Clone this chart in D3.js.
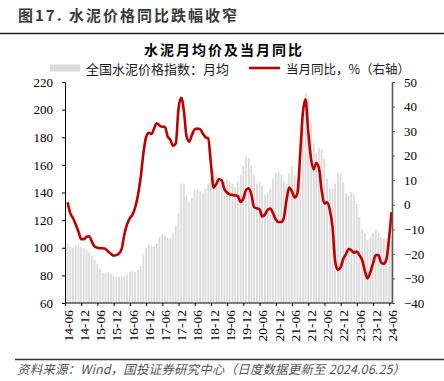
<!DOCTYPE html>
<html><head><meta charset="utf-8">
<script src="https://cdn.jsdelivr.net/npm/d3@7"></script>
<style>
html,body{margin:0;padding:0;background:#fff;}
svg{display:block;}
</style></head>
<body>
<svg id="chart" width="444" height="381"></svg>
<script>
// ---- data ----
const startMonth = "2014-06";
const cementIndex = [
  103,101,100,101,102,101,99.5,98.5,96.5,94,91.5,88.5,
  85,82,81,82,81,79.5,79,79,79,79.5,81,82.5,
  83,82.5,84,87,95,100,102,102,100.5,103,108,110,
  109,107.5,107,111,116,125,146.5,146.5,138,133,136,142,
  142,141,140,143,146.5,148,156,152.5,149,147.5,148,150,
  148,146.5,144,147.7,152.5,159.3,166.3,165,159.8,152.5,146.5,147.7,
  145.3,138,139.3,143,149.6,153.8,155,153,148.2,146.5,153.8,159.3,
  152.5,149,162.2,191,212,208,191,175.5,168,172.3,171.3,164,
  150,143,143,146.5,153.8,153.8,147.7,139.3,138,140.5,138.8,131.6,
  122.4,113.3,110.4,105.5,107.5,110.8,113.3,110.8,107.5,106.8,106.8,105.5,
  105
];
const yoyPct = [
  1,-3.5,-5.5,-8,-11,-14,-14,-13,-12.8,-15,-17,-17.5,
  -17.7,-17.7,-18,-19,-20,-20.7,-20.5,-19.8,-18,-12,-8,-5.5,
  -4,-1,4,11,21,27.5,29.3,28.8,31,33.2,32.3,31.8,
  31.8,27.8,26.4,24,25,39,43.6,38,28,25.7,28.4,30.7,
  31,30.8,29,27.5,27,17,7,8.5,10.5,10,6.5,5,
  4.2,4,3.8,3.5,1.2,2.5,6,6.7,4.2,-1,-1.4,-1.8,
  -4.8,-4,-2,-1.5,-3.5,-6,-7,-7,-5.5,2,7,5.5,
  3,4.5,20,37,43,30,19,14.5,17,15,6,0.5,
  1,-2,-9,-23,-26.5,-25.5,-22,-20,-18,-18.5,-19.5,-19,
  -20.5,-22.5,-27,-30,-27.5,-24,-20.5,-20.5,-23.5,-24,-22,-13,
  -3
];
const leftTicks = [60,80,100,120,140,160,180,200,220];
const rightTicks = [-40,-30,-20,-10,0,10,20,30,40,50];
const xTickLabels = ["14-06","14-12","15-06","15-12","16-06","16-12","17-06","17-12","18-06","18-12",
  "19-06","19-12","20-06","20-12","21-06","21-12","22-06","22-12","23-06","23-12","24-06"];
const titleText = "图17. 水泥价格同比跌幅收窄";
const chartTitle = "水泥月均价及当月同比";
const legendBar = "全国水泥价格指数：月均";
const legendLine = "当月同比，%（右轴）";
const sourceText = "资料来源：Wind，国投证券研究中心（日度数据更新至 2024.06.25）";

// ---- categories (months) ----
const parseM = d3.timeParse("%Y-%m");
const m0 = parseM(startMonth);
const months = d3.range(cementIndex.length).map(i => d3.timeMonth.offset(m0, i));
// data sit at month end (last one is the 25th, the update date)
const dataDates = months.map((m, i) => i === months.length - 1 ? new Date(2024, 5, 25) : new Date(m.getFullYear(), m.getMonth() + 1, 0));
const tickDates = xTickLabels.map(s => parseM("20" + s));

// ---- layout ----
const L = 65, R = 392, T = 82, B = 303;
const svg = d3.select("#chart");
const serif = "'Liberation Serif','Times New Roman',serif";
const cjk = "'Noto Sans CJK SC','Noto Sans',sans-serif";

const x = d3.scaleTime().domain([m0, d3.timeMonth.offset(m0, 121)]).range([L, R]);
const yL = d3.scaleLinear().domain([60, 220]).range([B, T]);
const yR = d3.scaleLinear().domain([-40, 50]).range([B, T]);

// header
svg.append("text").attr("x", 18).attr("y", 14).attr("dominant-baseline", "central")
  .style("font-family", cjk).style("font-size", "15px").style("font-weight", 700)
  .style("letter-spacing", "2px").style("fill", "#3a3a3a").text(titleText);
svg.append("line").attr("x1", 0).attr("x2", 444).attr("y1", 33.5).attr("y2", 33.5)
  .style("stroke", "#222").style("stroke-width", 1.6);
svg.append("text").attr("x", 224).attr("y", 49).attr("text-anchor", "middle").attr("dominant-baseline", "central")
  .style("font-family", cjk).style("font-size", "14px").style("font-weight", 700)
  .style("letter-spacing", "2px").style("fill", "#000").text(chartTitle);

// legend
svg.append("rect").attr("x", 50).attr("y", 64.5).attr("width", 30).attr("height", 7).style("fill", "#d9d9d9");
svg.append("text").attr("x", 86).attr("y", 68).attr("dominant-baseline", "central")
  .style("font-family", cjk).style("font-size", "13px").style("fill", "#1a1a1a").text(legendBar);
svg.append("line").attr("x1", 249).attr("x2", 280).attr("y1", 68).attr("y2", 68)
  .style("stroke", "#c00000").style("stroke-width", 2.6);
svg.append("text").attr("x", 286).attr("y", 68).attr("dominant-baseline", "central")
  .style("font-family", cjk).style("font-size", "12.5px").style("fill", "#1a1a1a").text(legendLine);

// bars
svg.append("g").selectAll("rect").data(cementIndex).join("rect")
  .attr("x", (d, i) => x(dataDates[i]) - 0.85)
  .attr("width", 1.7)
  .attr("y", d => yL(d))
  .attr("height", d => yL(60) - yL(d))
  .style("fill", "#d9d9d9");

// line
const line = d3.line().x((d, i) => x(dataDates[i])).y(d => yR(d)).curve(d3.curveMonotoneX);
svg.append("path").datum(yoyPct).attr("d", line)
  .style("fill", "none").style("stroke", "#c00000").style("stroke-width", 2.6)
  .style("stroke-linejoin", "round");

// axes
const gL = svg.append("g").attr("transform", `translate(${L},0)`)
  .call(d3.axisLeft(yL).tickValues(leftTicks).tickSize(3).tickPadding(9).tickSizeOuter(0));
const gR = svg.append("g").attr("transform", `translate(${R},0)`)
  .call(d3.axisRight(yR).tickValues(rightTicks).tickSize(3).tickPadding(9).tickSizeOuter(0));
const gB = svg.append("g").attr("transform", `translate(0,${B})`)
  .call(d3.axisBottom(x).tickValues(tickDates).tickSize(3).tickSizeOuter(0)
    .tickFormat((d, i) => xTickLabels[i]));
[gL, gR, gB].forEach(g => {
  g.selectAll("text").style("font-family", serif).style("font-size", "13px").style("fill", "#000");
});
gB.selectAll("text").style("font-size", "13.5px");
gL.select(".domain").style("stroke", "#000");
gL.selectAll(".tick line").style("stroke", "#000");
gR.select(".domain").style("stroke", "#595959").style("stroke-width", 1.6);
gR.selectAll(".tick line").style("stroke", "#595959");
gB.select(".domain").style("stroke", "#000").attr("d", `M${L},0H${R}`);
gB.selectAll(".tick line").style("stroke", "#000");
gB.selectAll("text")
  .attr("transform", "rotate(-90)")
  .attr("x", -7).attr("y", 2.5).attr("dy", "0.35em")
  .style("text-anchor", "end");

// footer
svg.append("line").attr("x1", 15).attr("x2", 444).attr("y1", 359.5).attr("y2", 359.5)
  .style("stroke", "#333").style("stroke-width", 1.4);
svg.append("text").attr("x", 17).attr("y", 368).attr("dominant-baseline", "central")
  .style("font-family", cjk).style("font-size", "12.5px").style("font-style", "italic")
  .style("letter-spacing", "0.15px").style("fill", "#555").text(sourceText);
</script>
</body></html>
